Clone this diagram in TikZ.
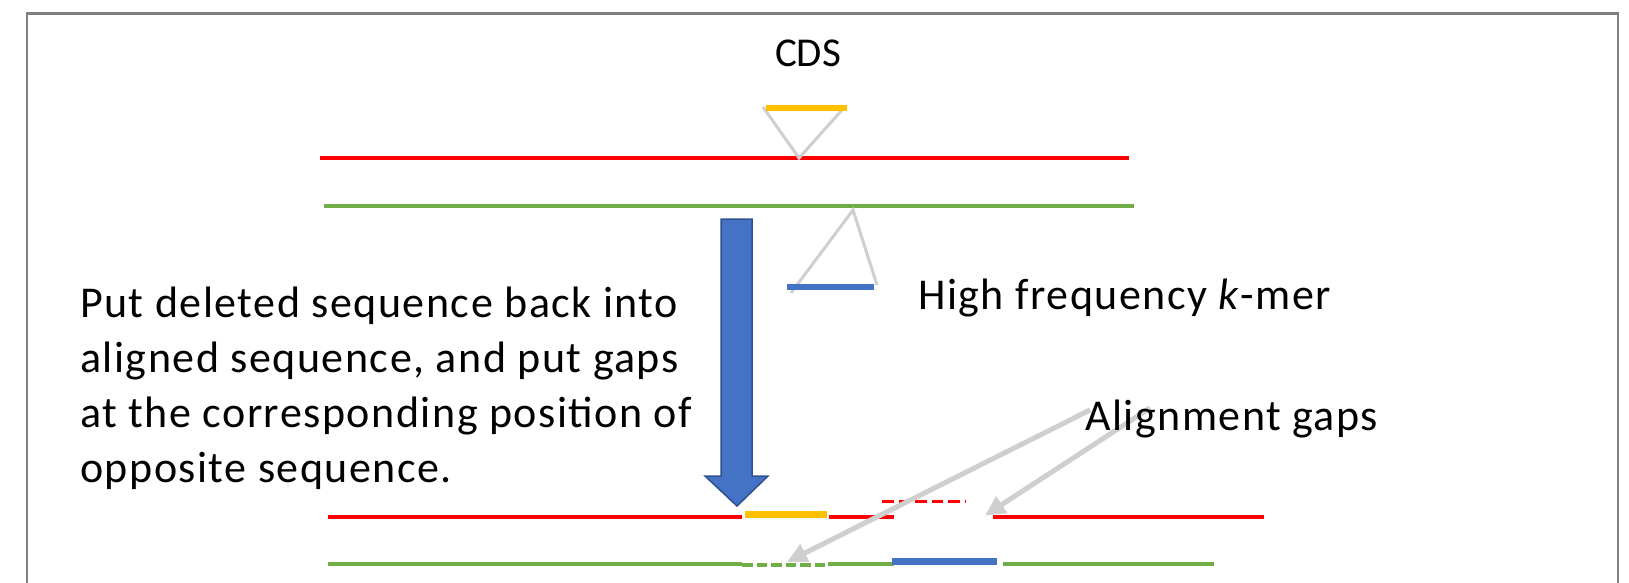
\documentclass[tikz,border=0pt]{standalone}
\usepackage{fontspec}
\setmainfont{Carlito}
\newfontfamily\spacedfont[LetterSpace=3.4]{Carlito}
\usetikzlibrary{arrows.meta}
\definecolor{seqred}{RGB}{255,0,0}
\definecolor{seqgreen}{RGB}{112,173,71}
\definecolor{cdsyellow}{RGB}{255,192,0}
\definecolor{kblue}{RGB}{68,114,196}
\definecolor{kbluedark}{RGB}{47,82,143}
\definecolor{lgray}{RGB}{208,206,206}
\definecolor{framegray}{RGB}{128,128,128}
\tikzset{
  redseq/.style={draw=seqred, line width=4pt},
  greenseq/.style={draw=seqgreen, line width=4pt},
  cdsbar/.style={draw=cdsyellow, line width=6.5pt},
  kbar/.style={draw=kblue, line width=6.5pt},
  guide/.style={draw=lgray, line width=3pt, line join=miter},
  gaparrow/.style={draw=lgray, line width=5pt, -{Triangle[length=20pt,width=19pt]}},
  lbl/.style={anchor=base west, inner sep=0pt, font=\spacedfont\fontsize{44}{55}\selectfont},
}
\begin{document}
\begin{tikzpicture}[x=1pt,y=-1pt]
\useasboundingbox (0,0) rectangle (1629,582);
\fill[white] (0,0) rectangle (1629,582);
% frame
\draw[framegray, line width=2.5pt] (27,600) -- (27,13.5) -- (1618,13.5) -- (1618,600);

% coordinates (top)
\coordinate (r1a) at (320,158); \coordinate (r1b) at (1129,158);
\coordinate (g1a) at (324,206); \coordinate (g1b) at (1134,206);
\coordinate (ya) at (766,108);  \coordinate (yb) at (847,108);
\coordinate (t1a) at (763,107); \coordinate (t1b) at (799,158); \coordinate (t1c) at (842,110);
\coordinate (ka) at (787,287);  \coordinate (kb) at (874,287);
\coordinate (t2a) at (791,293); \coordinate (t2b) at (853,210); \coordinate (t2c) at (877,285);

% coordinates (bottom)
\coordinate (br1a) at (328,516.5); \coordinate (br1b) at (742,516.5);
\coordinate (bya) at (745,514.7); \coordinate (byb) at (827,514.7);
\coordinate (br2a) at (829,516.5); \coordinate (br2b) at (894,516.5);
\coordinate (brda) at (882,501.7); \coordinate (brdb) at (966,501.7);
\coordinate (br3a) at (993,516.5); \coordinate (br3b) at (1264,516.5);
\coordinate (bg1a) at (328,564); \coordinate (bg1b) at (742,564);
\coordinate (bgda) at (742,565); \coordinate (bgdb) at (827,565);
\coordinate (bg2a) at (828,564); \coordinate (bg2b) at (894,564);
\coordinate (bka) at (892,561.3); \coordinate (bkb) at (997,561.3);
\coordinate (bg3a) at (1003,564); \coordinate (bg3b) at (1214,564);

% top sequences
\draw[redseq] (r1a) -- (r1b);
\draw[greenseq] (g1a) -- (g1b);
\draw[guide] (t1a) -- (t1b) -- (t1c);
\draw[cdsbar] (ya) -- (yb);
\draw[guide] (t2a) -- (t2b) -- (t2c);
\draw[kbar] (ka) -- (kb);

% big blue arrow
\filldraw[fill=kblue, draw=kbluedark, line width=1.5pt, line join=miter]
  (721,219) -- (752,219) -- (752,476) -- (768,476) -- (737,506) -- (705,476) -- (721,476) -- cycle;

% bottom sequences
\draw[redseq] (br1a) -- (br1b);
\draw[cdsbar] (bya) -- (byb);
\draw[redseq] (br2a) -- (br2b);
\draw[draw=seqred, line width=3.5pt, dash pattern=on 11.5pt off 5pt] (brda) -- (brdb);
\draw[redseq] (br3a) -- (br3b);
\draw[greenseq] (bg1a) -- (bg1b);
\draw[draw=seqgreen, line width=3.5pt, dash pattern=on 10.5pt off 4pt] (bgda) -- (bgdb);
\draw[greenseq] (bg2a) -- (bg2b);
\draw[kbar] (bka) -- (bkb);
\draw[greenseq] (bg3a) -- (bg3b);

% gap arrows
\coordinate (gs1) at (1090,410); \coordinate (ge1) at (787,562);
\coordinate (gs2) at (1150,408); \coordinate (ge2) at (985,515.5);
\draw[gaparrow] (gs1) -- (ge1);
\draw[gaparrow] (gs2) -- (ge2);

% labels
\node[inner sep=0pt, anchor=base, font=\fontsize{41}{50}\selectfont] (cds) at (808,66.7) {CDS};
\node[lbl] (kmer) at (918,309.5) {High frequency \textit{k}-mer};
\node[lbl] (gaps) at (1085,430) {Alignment gaps};
\node[lbl] (l1) at (80,317) {Put deleted sequence back into};
\node[lbl] (l2) at (80,372) {aligned sequence, and put gaps};
\node[lbl] (l3) at (80,427) {at the corresponding position of};
\node[lbl] (l4) at (80,482) {opposite sequence.};
\end{tikzpicture}
\end{document}
